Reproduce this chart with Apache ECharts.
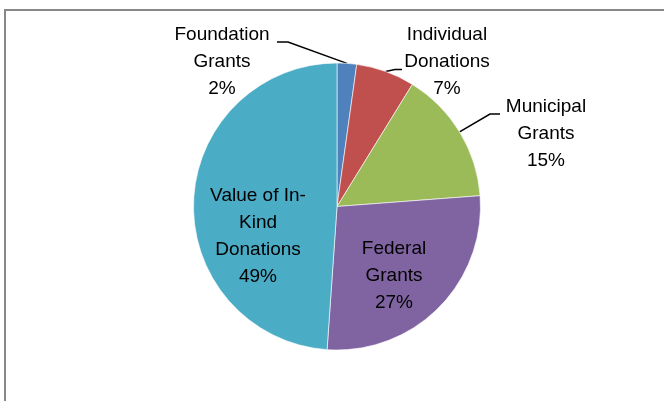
<!DOCTYPE html>
<html>
<head>
<meta charset="utf-8">
<script src="https://cdn.jsdelivr.net/npm/echarts@6/dist/echarts.min.js"></script>
<style>
html,body{margin:0;padding:0;background:#fff;}
#chart{width:664px;height:401px;}
</style>
</head>
<body>
<div id="chart"></div>
<script>
const categories = ['Foundation Grants', 'Individual Donations', 'Municipal Grants', 'Federal Grants', 'Value of In-Kind Donations'];
const values = [2.2, 6.6, 15.0, 27.3, 48.9];
const colors = ['#4F81BD', '#C0504D', '#9BBB59', '#8064A2', '#4BACC6'];

const wrapped = {
  'Foundation Grants': 'Foundation\nGrants',
  'Individual Donations': 'Individual\nDonations',
  'Municipal Grants': 'Municipal\nGrants',
  'Federal Grants': 'Federal\nGrants',
  'Value of In-Kind Donations': 'Value of In-\nKind\nDonations'
};

// label anchor (center of text block) and leader-line routing, per slice
const labelPos = [
  {x: 222, y: 62, line: [[66, -20], [55, -20]]},
  {x: 447, y: 62, line: [[-52, 7.5], [-45, 7.5]]},
  {x: 546, y: 134, line: [[-56, -20], [-46, -20]]},
  {x: 394, y: 276},
  {x: 258, y: 236}
];

const chart = echarts.init(document.getElementById('chart'), null, {renderer: 'canvas'});
const textStyle = {
  fontFamily: "'Liberation Sans', Arial, sans-serif",
  fontSize: 19,
  lineHeight: 27,
  color: '#000'
};
chart.setOption({
  animation: false,
  graphic: [{
    type: 'rect',
    shape: {x: 5, y: 10, width: 720, height: 460},
    style: {fill: 'none', stroke: '#878787', lineWidth: 2},
    silent: true
  }],
  series: [{
    type: 'pie',
    center: [337, 206.5],
    radius: 143.5,
    startAngle: 90,
    clockwise: true,
    percentPrecision: 0,
    avoidLabelOverlap: false,
    itemStyle: {borderColor: '#fff', borderWidth: 0.6},
    label: Object.assign({
      show: true,
      position: 'outside',
      formatter: p => wrapped[p.name] + '\n' + p.percent + '%',
      align: 'center'
    }, textStyle),
    labelLine: {show: true, length: 10, length2: 10, lineStyle: {color: '#000', width: 1.5}},
    emphasis: {disabled: true},
    labelLayout: function (params) {
      const i = params.dataIndex;
      const lp = labelPos[i];
      const res = {x: lp.x, y: lp.y, align: 'center', verticalAlign: 'middle'};
      if (lp.line && params.labelLinePoints) {
        const start = params.labelLinePoints[0];
        res.labelLinePoints = [start,
          [lp.x + lp.line[0][0], lp.y + lp.line[0][1]],
          [lp.x + lp.line[1][0], lp.y + lp.line[1][1]]];
      }
      return res;
    },
    data: categories.map((name, i) => {
      const d = {name: name, value: values[i], itemStyle: {color: colors[i]}};
      if (i >= 3) {
        d.label = {position: 'inside'};
        d.labelLine = {show: false};
      }
      return d;
    })
  }]
});
</script>
</body>
</html>
